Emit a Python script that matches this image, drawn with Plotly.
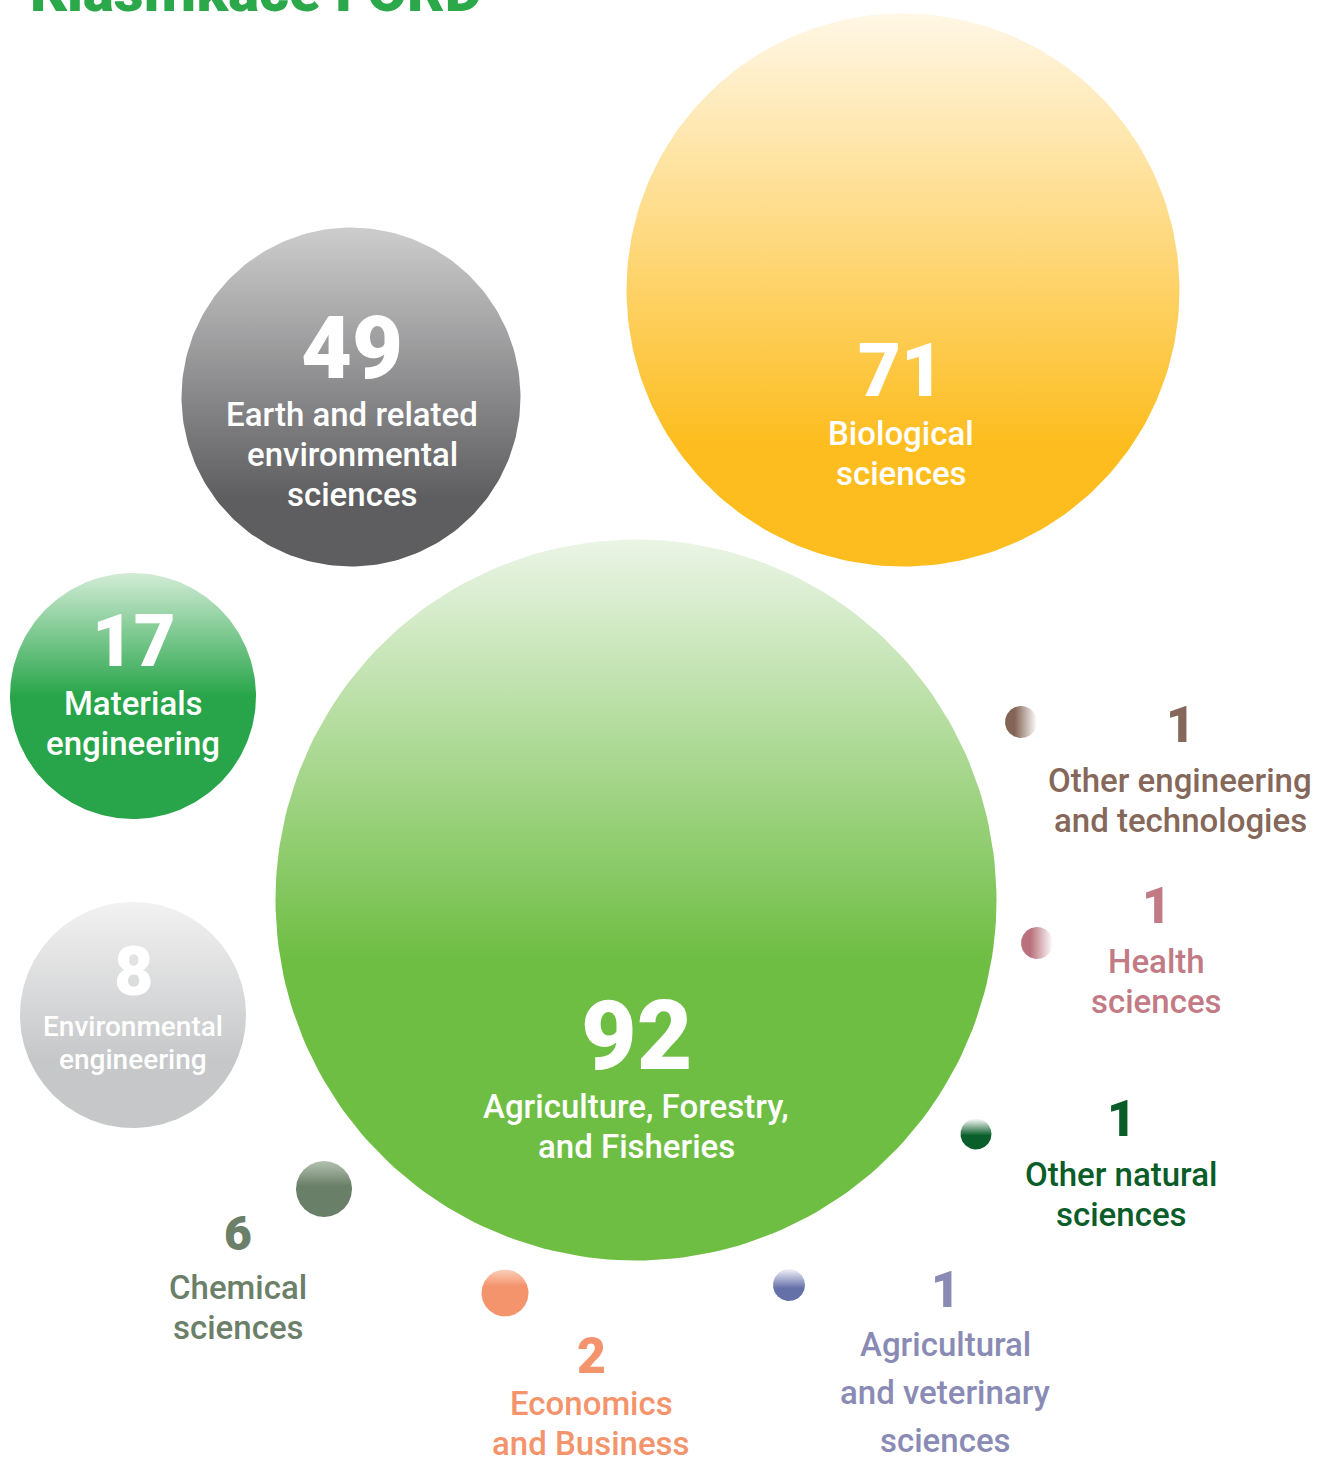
"""Bubble chart: FORD classification counts."""
import numpy as np
import plotly.graph_objects as go

# ── data ──────────────────────────────────────────────────────────────────────
categories = [
    "Agriculture, Forestry,<br>and Fisheries",
    "Biological<br>sciences",
    "Earth and related<br>environmental<br>sciences",
    "Materials<br>engineering",
    "Environmental<br>engineering",
    "Chemical<br>sciences",
    "Economics<br>and Business",
    "Agricultural<br>and veterinary<br>sciences",
    "Other natural<br>sciences",
    "Health<br>sciences",
    "Other engineering<br>and technologies",
]
values = [92, 71, 49, 17, 8, 6, 2, 1, 1, 1, 1]

# ── layout (pixel space, y grows downwards) ───────────────────────────────────
W, H = 1321, 1457
cx = [636, 903, 351, 133, 133, 324, 505, 789, 976, 1037, 1021]
cy = [900, 290, 397, 696, 1015, 1189, 1293, 1285, 1134, 943, 722]
radius = [360.5, 276.5, 169.5, 123, 113, 28, 23.5, 16, 15.5, 16, 16]
top_col = ["#ebf5e6", "#fff7e6", "#cdcdce", "#d2ecd6", "#f2f2f2", "#b4c2b0",
           "#fbd0bd", "#f2f2f8", "#ffffff", "#ffffff", "#ffffff"]
main_col = ["#6fbe44", "#fdbd1f", "#5e5e60", "#28a54a", "#c6c7c9", "#6a7f68",
            "#f4946c", "#6470a8", "#0a5e2a", "#b9727d", "#836456"]
solid_at = [0.58, 0.78, 0.8, 0.5, 0.7, 0.45, 0.35, 0.6, 0.55, 0.3, 0.3]
grad_type = ["vertical"] * 9 + ["horizontal"] * 2
text_col = ["white"] * 5 + ["#6b7f69", "#f4946c", "#8a8bb5", "#0a5c28",
                            "#c27a85", "#85685a"]
# number centre, first label line centre, line spacing, font sizes
num_xy = [(636, 1036), (901, 370), (352, 347), (133, 641), (133, 972),
          (238, 1233), (591, 1356), (945, 1290), (1121, 1119), (1156, 906),
          (1180, 725)]
lab_y = [1106, 433, 414, 703, 1026, 1287, 1403, 1344, 1174, 961, 780]
lab_gap = [40, 40, 40, 40, 33, 40, 40, 48, 40, 40, 40]
num_size = [96, 74, 88, 72, 68, 48, 50, 50, 50, 50, 50]
lab_size = [33, 33, 33, 33, 28, 33, 33, 33, 33, 33, 33]

theta = np.linspace(0, 2 * np.pi, 241)

fig = go.Figure()

for i in range(len(values)):
    r = radius[i]
    if grad_type[i] == "vertical":
        start, stop = cy[i] - r, cy[i] + r
        scale = [[0, top_col[i]], [solid_at[i], main_col[i]], [1, main_col[i]]]
    else:
        start, stop = cx[i] + r, cx[i] - r
        scale = [[0, top_col[i]], [1 - solid_at[i], main_col[i]], [1, main_col[i]]]
    fig.add_trace(go.Scatter(
        x=cx[i] + r * np.cos(theta),
        y=cy[i] + r * np.sin(theta),
        mode="lines",
        line=dict(width=0, color=main_col[i]),
        fill="toself",
        fillgradient=dict(type=grad_type[i], colorscale=scale, start=start, stop=stop),
        hoveron="fills",
        name=categories[i].replace("<br>", " ") + ": " + str(values[i]),
        showlegend=False,
    ))

annotations = []
for i, (lab, val) in enumerate(zip(categories, values)):
    nx, ny = num_xy[i]
    annotations.append(dict(
        x=nx, y=ny, xref="x", yref="y", showarrow=False,
        text=str(val),
        font=dict(family="Roboto", size=num_size[i], color=text_col[i], weight=900),
        xanchor="center", yanchor="middle",
    ))
    for j, line in enumerate(lab.split("<br>")):
        annotations.append(dict(
            x=nx, y=lab_y[i] + j * lab_gap[i], xref="x", yref="y", showarrow=False,
            text=line,
            font=dict(family="Roboto", size=lab_size[i], color=text_col[i], weight=500),
            xanchor="center", yanchor="middle",
        ))

# title, mostly cut off at the top of the page
annotations.append(dict(
    x=28 / W, y=1 + 9 / H, xref="paper", yref="paper", showarrow=False,
    text="Klasifikace FORD",
    font=dict(family="Roboto", size=58, color="#2ba84a", weight=900),
    xanchor="left", yanchor="middle",
))

fig.update_layout(
    width=W, height=H,
    margin=dict(l=0, r=0, t=0, b=0),
    xaxis=dict(range=[0, W], visible=False, fixedrange=True),
    yaxis=dict(range=[H, 0], visible=False, fixedrange=True),
    paper_bgcolor="white",
    plot_bgcolor="white",
    annotations=annotations,
)

fig.write_html("out.html", config={"displayModeBar": False},
               post_script="document.body.style.margin='0';")
